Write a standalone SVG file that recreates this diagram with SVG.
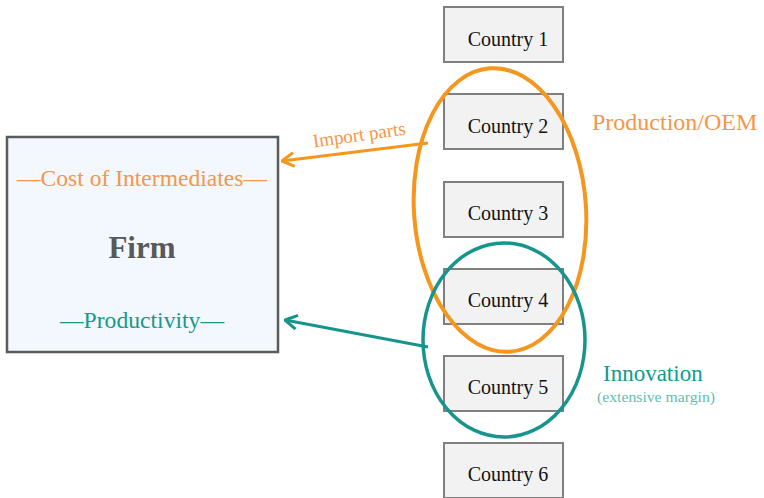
<svg xmlns="http://www.w3.org/2000/svg" width="764" height="498" viewBox="0 0 764 498">
<style>
.cbox{fill:#f2f2f2;stroke:#7f7f7f;stroke-width:2}
.ctext{font-family:"Liberation Serif",serif;font-size:20px;fill:#111;text-anchor:middle}
.ser{font-family:"Liberation Serif",serif}
</style>
<defs>
<marker id="ao" viewBox="0 0 16 16" refX="15" refY="8" markerWidth="16" markerHeight="16" markerUnits="userSpaceOnUse" orient="auto"><path d="M3,1 L15,8 L3,15" fill="none" stroke="#F5961F" stroke-width="3" stroke-linejoin="round"/></marker>
<marker id="at" viewBox="0 0 16 16" refX="15" refY="8" markerWidth="16" markerHeight="16" markerUnits="userSpaceOnUse" orient="auto"><path d="M3,1 L15,8 L3,15" fill="none" stroke="#17948C" stroke-width="3" stroke-linejoin="round"/></marker>
</defs>
<rect width="764" height="498" fill="#fff"/>
<g id="firm">
<rect x="7" y="137" width="271" height="215" fill="#f3f8fe" stroke="#5a5a5a" stroke-width="2.5"/>
<text class="ser" x="142" y="186" font-size="24" fill="#F79646" text-anchor="middle" textLength="250" lengthAdjust="spacingAndGlyphs">—Cost of Intermediates—</text>
<text class="ser" x="142" y="258" font-size="31" font-weight="bold" fill="#595959" text-anchor="middle">Firm</text>
<text class="ser" x="142" y="328" font-size="24" fill="#17998A" text-anchor="middle" textLength="164" lengthAdjust="spacingAndGlyphs">—Productivity—</text>
</g>
<g id="country1"><rect class="cbox" x="444" y="7" width="119" height="55"/><text class="ctext" x="508" y="46">Country 1</text></g>
<g id="country2"><rect class="cbox" x="444" y="94" width="119" height="55"/><text class="ctext" x="508" y="133">Country 2</text></g>
<g id="country3"><rect class="cbox" x="444" y="182" width="119" height="55"/><text class="ctext" x="508" y="220">Country 3</text></g>
<g id="country4"><rect class="cbox" x="444" y="269" width="119" height="55"/><text class="ctext" x="508" y="307">Country 4</text></g>
<g id="country5"><rect class="cbox" x="444" y="356" width="119" height="55"/><text class="ctext" x="508" y="394">Country 5</text></g>
<g id="country6"><rect class="cbox" x="444" y="443" width="119" height="55"/><text class="ctext" x="508" y="481">Country 6</text></g>
<g id="production">
<ellipse cx="500" cy="210" rx="86" ry="142" fill="none" stroke="#F5961F" stroke-width="4" transform="rotate(-4 500 210)"/>
<text class="ser" x="592" y="130" font-size="24" fill="#F79646">Production/OEM</text>
</g>
<g id="innovation">
<ellipse cx="504" cy="340" rx="81" ry="97" fill="none" stroke="#17948C" stroke-width="3.5"/>
<text class="ser" x="603" y="381" font-size="23" fill="#17998A">Innovation</text>
<text class="ser" x="597" y="402" font-size="14" fill="#5fbfae" textLength="118" lengthAdjust="spacingAndGlyphs">(extensive margin)</text>
</g>
<g id="connectors">
<line x1="428" y1="143" x2="282" y2="161" stroke="#F5961F" stroke-width="3" marker-end="url(#ao)"/>
<text class="ser" x="360" y="141" font-size="19" fill="#F79646" text-anchor="middle" transform="rotate(-8 360 141)">Import parts</text>
<line x1="428" y1="347" x2="285" y2="320" stroke="#17948C" stroke-width="3" marker-end="url(#at)"/>
</g>
</svg>
